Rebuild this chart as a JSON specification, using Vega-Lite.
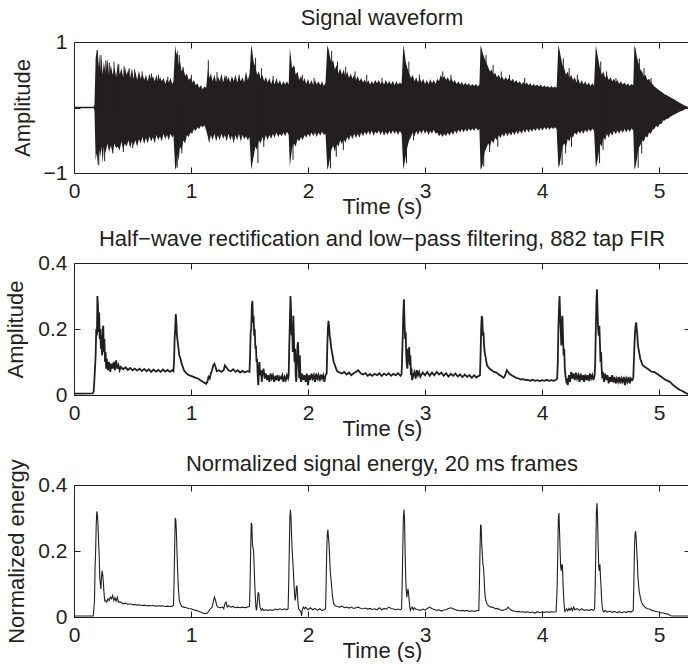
{
"$schema": "https://vega.github.io/schema/vega-lite/v6.json",
"padding": {"left": 4, "top": 6, "right": 0, "bottom": 0},
"bounds": "flush",
"spacing": 90,
"background": "white",
"config": {
 "font": "Liberation Sans",
 "view": {"stroke": "#231f20", "strokeWidth": 1},
 "axis": {"grid": false, "domain": false, "zindex": 1, "tickColor": "#231f20", "tickWidth": 1, "tickSize": 6, "labelFlush": false, "labelOverlap": false, "labelFontSize": 21, "labelColor": "#231f20", "titleFontSize": 22, "titleFontWeight": "normal", "titleColor": "#231f20", "labelFont": "Liberation Sans", "titleFont": "Liberation Sans"},
 "title": {"fontSize": 22, "fontWeight": "normal", "color": "#231f20", "font": "Liberation Sans", "offset": 1}
},
"datasets": {
"onsets": [{"t":0.18},{"t":0.86},{"t":1.515},{"t":1.845},{"t":2.165},{"t":2.815},{"t":3.475},{"t":4.14},{"t":4.46},{"t":4.79}],
"spikes": [
{"t":0.2,"a":0,"b":0.88},{"t":0.23,"a":0,"b":0.8},{"t":0.272,"a":0,"b":0.72},{"t":0.302,"a":0,"b":0.68},{"t":0.342,"a":0,"b":0.7},{"t":0.383,"a":0,"b":0.66},{"t":0.428,"a":0,"b":0.63},{"t":0.472,"a":0,"b":0.6},{"t":0.518,"a":0,"b":0.58},{"t":0.583,"a":0,"b":0.55},{"t":0.662,"a":0,"b":0.52},{"t":0.722,"a":0,"b":0.5},{"t":0.802,"a":0,"b":0.47},{"t":0.9,"a":0,"b":0.8},{"t":0.932,"a":0,"b":0.62},{"t":1.003,"a":0,"b":0.5},{"t":1.148,"a":0,"b":0.72},{"t":1.222,"a":0,"b":0.54},{"t":1.302,"a":0,"b":0.48},{"t":1.412,"a":0,"b":0.5},{"t":1.552,"a":0,"b":0.76},{"t":1.602,"a":0,"b":0.6},{"t":1.702,"a":0,"b":0.48},{"t":1.882,"a":0,"b":0.62},{"t":1.952,"a":0,"b":0.5},{"t":2.052,"a":0,"b":0.45},{"t":2.202,"a":0,"b":0.86},{"t":2.252,"a":0,"b":0.7},{"t":2.322,"a":0,"b":0.62},{"t":2.402,"a":0,"b":0.55},{"t":2.502,"a":0,"b":0.5},{"t":2.632,"a":0,"b":0.45},{"t":2.862,"a":0,"b":0.7},{"t":2.952,"a":0,"b":0.5},{"t":3.152,"a":0,"b":0.55},{"t":3.222,"a":0,"b":0.5},{"t":3.522,"a":0,"b":0.8},{"t":3.582,"a":0,"b":0.65},{"t":3.652,"a":0,"b":0.55},{"t":3.722,"a":0,"b":0.5},{"t":3.852,"a":0,"b":0.45},{"t":4.182,"a":0,"b":0.75},{"t":4.232,"a":0,"b":0.6},{"t":4.302,"a":0,"b":0.5},{"t":4.502,"a":0,"b":0.7},{"t":4.552,"a":0,"b":0.55},{"t":4.632,"a":0,"b":0.45},{"t":4.832,"a":0,"b":0.75},{"t":4.872,"a":0,"b":0.6},{"t":4.932,"a":0,"b":0.45},
{"t":0.212,"a":0,"b":-0.88},{"t":0.262,"a":0,"b":-0.82},{"t":0.332,"a":0,"b":-0.7},{"t":0.422,"a":0,"b":-0.68},{"t":0.502,"a":0,"b":-0.62},{"t":0.882,"a":0,"b":-0.92},{"t":0.922,"a":0,"b":-0.7},{"t":1.572,"a":0,"b":-0.85},{"t":1.622,"a":0,"b":-0.6},{"t":1.872,"a":0,"b":-0.8},{"t":2.192,"a":0,"b":-0.93},{"t":2.242,"a":0,"b":-0.75},{"t":2.302,"a":0,"b":-0.65},{"t":2.842,"a":0,"b":-0.85},{"t":2.902,"a":0,"b":-0.5},{"t":3.502,"a":0,"b":-0.9},{"t":3.552,"a":0,"b":-0.68},{"t":3.622,"a":0,"b":-0.6},{"t":4.172,"a":0,"b":-0.88},{"t":4.202,"a":0,"b":-0.7},{"t":4.252,"a":0,"b":-0.6},{"t":4.492,"a":0,"b":-0.85},{"t":4.522,"a":0,"b":-0.65},{"t":4.822,"a":0,"b":-0.92},{"t":4.852,"a":0,"b":-0.7}
],
"env": [
{"t":0,"hi":0.01,"lo":-0.01},{"t":0.17,"hi":0.01,"lo":-0.01},{"t":0.175,"hi":0.05,"lo":-0.05},{"t":0.185,"hi":0.75,"lo":-0.8},{"t":0.195,"hi":0.88,"lo":-0.7},{"t":0.205,"hi":0.6,"lo":-0.9},{"t":0.215,"hi":0.82,"lo":-0.65},{"t":0.225,"hi":0.55,"lo":-0.75},{"t":0.235,"hi":0.78,"lo":-0.6},{"t":0.245,"hi":0.5,"lo":-0.85},{"t":0.255,"hi":0.7,"lo":-0.6},{"t":0.27,"hi":0.52,"lo":-0.7},{"t":0.285,"hi":0.75,"lo":-0.55},{"t":0.3,"hi":0.48,"lo":-0.68},{"t":0.315,"hi":0.65,"lo":-0.58},{"t":0.33,"hi":0.5,"lo":-0.7},{"t":0.345,"hi":0.62,"lo":-0.55},{"t":0.36,"hi":0.47,"lo":-0.62},{"t":0.375,"hi":0.68,"lo":-0.6},{"t":0.39,"hi":0.5,"lo":-0.66},{"t":0.405,"hi":0.6,"lo":-0.52},{"t":0.42,"hi":0.46,"lo":-0.64},{"t":0.435,"hi":0.62,"lo":-0.55},{"t":0.45,"hi":0.5,"lo":-0.6},{"t":0.465,"hi":0.58,"lo":-0.5},{"t":0.48,"hi":0.45,"lo":-0.62},{"t":0.495,"hi":0.6,"lo":-0.52},{"t":0.51,"hi":0.44,"lo":-0.58},{"t":0.525,"hi":0.55,"lo":-0.5},{"t":0.54,"hi":0.42,"lo":-0.6},{"t":0.555,"hi":0.56,"lo":-0.48},{"t":0.57,"hi":0.44,"lo":-0.55},{"t":0.585,"hi":0.52,"lo":-0.45},{"t":0.6,"hi":0.42,"lo":-0.56},{"t":0.615,"hi":0.5,"lo":-0.46},{"t":0.63,"hi":0.4,"lo":-0.55},{"t":0.645,"hi":0.52,"lo":-0.44},{"t":0.66,"hi":0.42,"lo":-0.52},{"t":0.675,"hi":0.48,"lo":-0.45},{"t":0.69,"hi":0.4,"lo":-0.55},{"t":0.705,"hi":0.5,"lo":-0.42},{"t":0.72,"hi":0.38,"lo":-0.5},{"t":0.735,"hi":0.47,"lo":-0.44},{"t":0.75,"hi":0.4,"lo":-0.52},{"t":0.765,"hi":0.45,"lo":-0.4},{"t":0.78,"hi":0.36,"lo":-0.48},{"t":0.795,"hi":0.44,"lo":-0.42},{"t":0.81,"hi":0.38,"lo":-0.5},{"t":0.825,"hi":0.45,"lo":-0.4},{"t":0.84,"hi":0.36,"lo":-0.46},{"t":0.85,"hi":0.4,"lo":-0.42},{"t":0.865,"hi":0.95,"lo":-0.95},{"t":0.875,"hi":0.8,"lo":-0.9},{"t":0.885,"hi":0.88,"lo":-0.7},{"t":0.895,"hi":0.65,"lo":-0.82},{"t":0.905,"hi":0.72,"lo":-0.6},{"t":0.92,"hi":0.55,"lo":-0.65},{"t":0.935,"hi":0.6,"lo":-0.5},{"t":0.95,"hi":0.48,"lo":-0.55},{"t":0.965,"hi":0.52,"lo":-0.42},{"t":0.98,"hi":0.42,"lo":-0.45},{"t":0.995,"hi":0.45,"lo":-0.38},{"t":1.01,"hi":0.38,"lo":-0.4},{"t":1.025,"hi":0.42,"lo":-0.33},{"t":1.04,"hi":0.34,"lo":-0.36},{"t":1.055,"hi":0.37,"lo":-0.3},{"t":1.07,"hi":0.3,"lo":-0.33},{"t":1.085,"hi":0.34,"lo":-0.28},{"t":1.1,"hi":0.28,"lo":-0.3},{"t":1.115,"hi":0.32,"lo":-0.27},{"t":1.13,"hi":0.3,"lo":-0.35},{"t":1.145,"hi":0.6,"lo":-0.45},{"t":1.155,"hi":0.45,"lo":-0.55},{"t":1.17,"hi":0.52,"lo":-0.42},{"t":1.185,"hi":0.4,"lo":-0.5},{"t":1.2,"hi":0.5,"lo":-0.4},{"t":1.215,"hi":0.38,"lo":-0.52},{"t":1.23,"hi":0.48,"lo":-0.42},{"t":1.245,"hi":0.4,"lo":-0.5},{"t":1.26,"hi":0.52,"lo":-0.4},{"t":1.275,"hi":0.38,"lo":-0.48},{"t":1.29,"hi":0.5,"lo":-0.42},{"t":1.305,"hi":0.4,"lo":-0.52},{"t":1.32,"hi":0.47,"lo":-0.4},{"t":1.335,"hi":0.38,"lo":-0.5},{"t":1.35,"hi":0.48,"lo":-0.43},{"t":1.365,"hi":0.4,"lo":-0.55},{"t":1.38,"hi":0.5,"lo":-0.42},{"t":1.395,"hi":0.38,"lo":-0.5},{"t":1.41,"hi":0.48,"lo":-0.4},{"t":1.425,"hi":0.4,"lo":-0.52},{"t":1.44,"hi":0.46,"lo":-0.42},{"t":1.455,"hi":0.38,"lo":-0.48},{"t":1.47,"hi":0.55,"lo":-0.44},{"t":1.485,"hi":0.42,"lo":-0.5},{"t":1.5,"hi":0.5,"lo":-0.45},{"t":1.515,"hi":0.95,"lo":-0.95},{"t":1.525,"hi":0.85,"lo":-0.85},{"t":1.535,"hi":0.7,"lo":-0.75},{"t":1.55,"hi":0.62,"lo":-0.6},{"t":1.565,"hi":0.5,"lo":-0.65},{"t":1.58,"hi":0.55,"lo":-0.5},{"t":1.595,"hi":0.44,"lo":-0.55},{"t":1.61,"hi":0.5,"lo":-0.45},{"t":1.625,"hi":0.4,"lo":-0.52},{"t":1.64,"hi":0.47,"lo":-0.42},{"t":1.655,"hi":0.38,"lo":-0.5},{"t":1.67,"hi":0.45,"lo":-0.42},{"t":1.685,"hi":0.36,"lo":-0.48},{"t":1.7,"hi":0.44,"lo":-0.4},{"t":1.715,"hi":0.35,"lo":-0.46},{"t":1.73,"hi":0.45,"lo":-0.38},{"t":1.745,"hi":0.36,"lo":-0.45},{"t":1.76,"hi":0.42,"lo":-0.4},{"t":1.775,"hi":0.34,"lo":-0.44},{"t":1.79,"hi":0.4,"lo":-0.38},{"t":1.805,"hi":0.35,"lo":-0.44},{"t":1.82,"hi":0.4,"lo":-0.37},{"t":1.835,"hi":0.35,"lo":-0.42},{"t":1.845,"hi":0.9,"lo":-0.9},{"t":1.855,"hi":0.75,"lo":-0.75},{"t":1.865,"hi":0.6,"lo":-0.62},{"t":1.88,"hi":0.65,"lo":-0.55},{"t":1.895,"hi":0.5,"lo":-0.6},{"t":1.91,"hi":0.55,"lo":-0.48},{"t":1.925,"hi":0.42,"lo":-0.52},{"t":1.94,"hi":0.48,"lo":-0.45},{"t":1.955,"hi":0.38,"lo":-0.5},{"t":1.97,"hi":0.45,"lo":-0.42},{"t":1.985,"hi":0.36,"lo":-0.46},{"t":2.0,"hi":0.44,"lo":-0.4},{"t":2.015,"hi":0.35,"lo":-0.45},{"t":2.03,"hi":0.42,"lo":-0.38},{"t":2.045,"hi":0.34,"lo":-0.44},{"t":2.06,"hi":0.42,"lo":-0.38},{"t":2.075,"hi":0.35,"lo":-0.45},{"t":2.09,"hi":0.4,"lo":-0.38},{"t":2.105,"hi":0.34,"lo":-0.43},{"t":2.12,"hi":0.4,"lo":-0.37},{"t":2.135,"hi":0.33,"lo":-0.42},{"t":2.15,"hi":0.38,"lo":-0.4},{"t":2.165,"hi":0.95,"lo":-0.95},{"t":2.175,"hi":0.9,"lo":-0.9},{"t":2.185,"hi":0.8,"lo":-0.8},{"t":2.2,"hi":0.68,"lo":-0.65},{"t":2.215,"hi":0.72,"lo":-0.58},{"t":2.23,"hi":0.58,"lo":-0.68},{"t":2.245,"hi":0.65,"lo":-0.55},{"t":2.26,"hi":0.52,"lo":-0.6},{"t":2.275,"hi":0.6,"lo":-0.5},{"t":2.29,"hi":0.5,"lo":-0.56},{"t":2.305,"hi":0.58,"lo":-0.48},{"t":2.32,"hi":0.47,"lo":-0.54},{"t":2.335,"hi":0.55,"lo":-0.45},{"t":2.35,"hi":0.45,"lo":-0.5},{"t":2.365,"hi":0.52,"lo":-0.42},{"t":2.38,"hi":0.44,"lo":-0.48},{"t":2.395,"hi":0.5,"lo":-0.4},{"t":2.41,"hi":0.42,"lo":-0.47},{"t":2.425,"hi":0.48,"lo":-0.4},{"t":2.44,"hi":0.4,"lo":-0.46},{"t":2.455,"hi":0.45,"lo":-0.38},{"t":2.47,"hi":0.38,"lo":-0.44},{"t":2.485,"hi":0.43,"lo":-0.37},{"t":2.5,"hi":0.36,"lo":-0.42},{"t":2.515,"hi":0.42,"lo":-0.36},{"t":2.53,"hi":0.35,"lo":-0.42},{"t":2.545,"hi":0.4,"lo":-0.35},{"t":2.56,"hi":0.36,"lo":-0.43},{"t":2.575,"hi":0.42,"lo":-0.37},{"t":2.59,"hi":0.37,"lo":-0.4},{"t":2.605,"hi":0.42,"lo":-0.35},{"t":2.62,"hi":0.36,"lo":-0.42},{"t":2.635,"hi":0.4,"lo":-0.36},{"t":2.65,"hi":0.35,"lo":-0.43},{"t":2.665,"hi":0.42,"lo":-0.37},{"t":2.68,"hi":0.36,"lo":-0.42},{"t":2.695,"hi":0.4,"lo":-0.36},{"t":2.71,"hi":0.35,"lo":-0.41},{"t":2.725,"hi":0.41,"lo":-0.35},{"t":2.74,"hi":0.34,"lo":-0.4},{"t":2.755,"hi":0.4,"lo":-0.36},{"t":2.77,"hi":0.35,"lo":-0.42},{"t":2.785,"hi":0.38,"lo":-0.36},{"t":2.8,"hi":0.36,"lo":-0.4},{"t":2.815,"hi":0.95,"lo":-0.95},{"t":2.825,"hi":0.85,"lo":-0.85},{"t":2.835,"hi":0.7,"lo":-0.75},{"t":2.85,"hi":0.6,"lo":-0.6},{"t":2.865,"hi":0.52,"lo":-0.5},{"t":2.88,"hi":0.45,"lo":-0.45},{"t":2.895,"hi":0.5,"lo":-0.38},{"t":2.91,"hi":0.4,"lo":-0.44},{"t":2.925,"hi":0.46,"lo":-0.36},{"t":2.94,"hi":0.38,"lo":-0.42},{"t":2.955,"hi":0.45,"lo":-0.35},{"t":2.97,"hi":0.38,"lo":-0.4},{"t":2.985,"hi":0.44,"lo":-0.34},{"t":3.0,"hi":0.36,"lo":-0.4},{"t":3.015,"hi":0.42,"lo":-0.35},{"t":3.03,"hi":0.36,"lo":-0.42},{"t":3.045,"hi":0.43,"lo":-0.36},{"t":3.06,"hi":0.37,"lo":-0.4},{"t":3.075,"hi":0.42,"lo":-0.34},{"t":3.09,"hi":0.36,"lo":-0.4},{"t":3.105,"hi":0.44,"lo":-0.38},{"t":3.12,"hi":0.4,"lo":-0.44},{"t":3.135,"hi":0.5,"lo":-0.4},{"t":3.15,"hi":0.44,"lo":-0.45},{"t":3.165,"hi":0.48,"lo":-0.4},{"t":3.18,"hi":0.42,"lo":-0.44},{"t":3.195,"hi":0.46,"lo":-0.38},{"t":3.21,"hi":0.4,"lo":-0.43},{"t":3.225,"hi":0.45,"lo":-0.37},{"t":3.24,"hi":0.38,"lo":-0.42},{"t":3.255,"hi":0.42,"lo":-0.35},{"t":3.27,"hi":0.36,"lo":-0.4},{"t":3.285,"hi":0.4,"lo":-0.34},{"t":3.3,"hi":0.35,"lo":-0.38},{"t":3.315,"hi":0.39,"lo":-0.33},{"t":3.33,"hi":0.34,"lo":-0.38},{"t":3.345,"hi":0.38,"lo":-0.33},{"t":3.36,"hi":0.34,"lo":-0.37},{"t":3.375,"hi":0.37,"lo":-0.32},{"t":3.39,"hi":0.33,"lo":-0.36},{"t":3.405,"hi":0.36,"lo":-0.32},{"t":3.42,"hi":0.33,"lo":-0.36},{"t":3.435,"hi":0.36,"lo":-0.31},{"t":3.45,"hi":0.32,"lo":-0.35},{"t":3.465,"hi":0.35,"lo":-0.33},{"t":3.475,"hi":0.95,"lo":-0.95},{"t":3.485,"hi":0.9,"lo":-0.92},{"t":3.495,"hi":0.82,"lo":-0.85},{"t":3.51,"hi":0.75,"lo":-0.68},{"t":3.525,"hi":0.68,"lo":-0.62},{"t":3.54,"hi":0.62,"lo":-0.55},{"t":3.555,"hi":0.55,"lo":-0.6},{"t":3.57,"hi":0.58,"lo":-0.5},{"t":3.585,"hi":0.5,"lo":-0.55},{"t":3.6,"hi":0.53,"lo":-0.46},{"t":3.615,"hi":0.46,"lo":-0.5},{"t":3.63,"hi":0.5,"lo":-0.42},{"t":3.645,"hi":0.44,"lo":-0.47},{"t":3.66,"hi":0.47,"lo":-0.4},{"t":3.675,"hi":0.42,"lo":-0.45},{"t":3.69,"hi":0.46,"lo":-0.38},{"t":3.705,"hi":0.42,"lo":-0.44},{"t":3.72,"hi":0.46,"lo":-0.38},{"t":3.735,"hi":0.4,"lo":-0.43},{"t":3.75,"hi":0.44,"lo":-0.37},{"t":3.765,"hi":0.38,"lo":-0.42},{"t":3.78,"hi":0.42,"lo":-0.36},{"t":3.795,"hi":0.37,"lo":-0.41},{"t":3.81,"hi":0.4,"lo":-0.35},{"t":3.825,"hi":0.35,"lo":-0.4},{"t":3.84,"hi":0.39,"lo":-0.34},{"t":3.855,"hi":0.35,"lo":-0.39},{"t":3.87,"hi":0.38,"lo":-0.33},{"t":3.885,"hi":0.34,"lo":-0.38},{"t":3.9,"hi":0.37,"lo":-0.33},{"t":3.915,"hi":0.33,"lo":-0.37},{"t":3.93,"hi":0.36,"lo":-0.32},{"t":3.945,"hi":0.33,"lo":-0.36},{"t":3.96,"hi":0.35,"lo":-0.31},{"t":3.975,"hi":0.32,"lo":-0.36},{"t":3.99,"hi":0.35,"lo":-0.31},{"t":4.005,"hi":0.31,"lo":-0.35},{"t":4.02,"hi":0.34,"lo":-0.3},{"t":4.035,"hi":0.31,"lo":-0.34},{"t":4.05,"hi":0.33,"lo":-0.3},{"t":4.065,"hi":0.3,"lo":-0.34},{"t":4.08,"hi":0.33,"lo":-0.3},{"t":4.095,"hi":0.3,"lo":-0.33},{"t":4.11,"hi":0.32,"lo":-0.3},{"t":4.125,"hi":0.3,"lo":-0.33},{"t":4.14,"hi":0.95,"lo":-0.92},{"t":4.15,"hi":0.88,"lo":-0.88},{"t":4.16,"hi":0.78,"lo":-0.78},{"t":4.175,"hi":0.65,"lo":-0.6},{"t":4.19,"hi":0.6,"lo":-0.55},{"t":4.205,"hi":0.5,"lo":-0.6},{"t":4.22,"hi":0.55,"lo":-0.48},{"t":4.235,"hi":0.45,"lo":-0.52},{"t":4.25,"hi":0.5,"lo":-0.42},{"t":4.265,"hi":0.42,"lo":-0.46},{"t":4.28,"hi":0.46,"lo":-0.38},{"t":4.295,"hi":0.38,"lo":-0.42},{"t":4.31,"hi":0.44,"lo":-0.36},{"t":4.325,"hi":0.36,"lo":-0.4},{"t":4.34,"hi":0.42,"lo":-0.35},{"t":4.355,"hi":0.35,"lo":-0.4},{"t":4.37,"hi":0.4,"lo":-0.34},{"t":4.385,"hi":0.34,"lo":-0.38},{"t":4.4,"hi":0.38,"lo":-0.33},{"t":4.415,"hi":0.33,"lo":-0.37},{"t":4.43,"hi":0.37,"lo":-0.32},{"t":4.445,"hi":0.33,"lo":-0.36},{"t":4.46,"hi":0.95,"lo":-0.92},{"t":4.47,"hi":0.85,"lo":-0.85},{"t":4.48,"hi":0.75,"lo":-0.75},{"t":4.495,"hi":0.6,"lo":-0.55},{"t":4.51,"hi":0.5,"lo":-0.6},{"t":4.525,"hi":0.55,"lo":-0.45},{"t":4.54,"hi":0.45,"lo":-0.5},{"t":4.555,"hi":0.5,"lo":-0.4},{"t":4.57,"hi":0.42,"lo":-0.46},{"t":4.585,"hi":0.46,"lo":-0.38},{"t":4.6,"hi":0.4,"lo":-0.43},{"t":4.615,"hi":0.44,"lo":-0.36},{"t":4.63,"hi":0.38,"lo":-0.41},{"t":4.645,"hi":0.42,"lo":-0.35},{"t":4.66,"hi":0.36,"lo":-0.4},{"t":4.675,"hi":0.4,"lo":-0.34},{"t":4.69,"hi":0.35,"lo":-0.39},{"t":4.705,"hi":0.38,"lo":-0.33},{"t":4.72,"hi":0.34,"lo":-0.38},{"t":4.735,"hi":0.37,"lo":-0.33},{"t":4.75,"hi":0.33,"lo":-0.37},{"t":4.765,"hi":0.36,"lo":-0.32},{"t":4.78,"hi":0.34,"lo":-0.35},{"t":4.79,"hi":0.95,"lo":-0.95},{"t":4.8,"hi":0.9,"lo":-0.9},{"t":4.81,"hi":0.78,"lo":-0.8},{"t":4.825,"hi":0.68,"lo":-0.62},{"t":4.84,"hi":0.58,"lo":-0.58},{"t":4.855,"hi":0.55,"lo":-0.5},{"t":4.87,"hi":0.48,"lo":-0.52},{"t":4.885,"hi":0.5,"lo":-0.44},{"t":4.9,"hi":0.42,"lo":-0.46},{"t":4.915,"hi":0.44,"lo":-0.38},{"t":4.93,"hi":0.38,"lo":-0.4},{"t":4.945,"hi":0.36,"lo":-0.34},{"t":4.96,"hi":0.32,"lo":-0.33},{"t":4.975,"hi":0.3,"lo":-0.28},{"t":4.99,"hi":0.28,"lo":-0.3},{"t":5.005,"hi":0.26,"lo":-0.25},{"t":5.02,"hi":0.24,"lo":-0.25},{"t":5.035,"hi":0.22,"lo":-0.2},{"t":5.05,"hi":0.2,"lo":-0.2},{"t":5.065,"hi":0.19,"lo":-0.17},{"t":5.08,"hi":0.17,"lo":-0.17},{"t":5.095,"hi":0.16,"lo":-0.14},{"t":5.11,"hi":0.14,"lo":-0.13},{"t":5.125,"hi":0.13,"lo":-0.11},{"t":5.14,"hi":0.11,"lo":-0.1},{"t":5.16,"hi":0.09,"lo":-0.08},{"t":5.18,"hi":0.07,"lo":-0.06},{"t":5.2,"hi":0.05,"lo":-0.05},{"t":5.22,"hi":0.03,"lo":-0.03},{"t":5.24,"hi":0.015,"lo":-0.015},{"t":5.26,"hi":0.005,"lo":-0.005}
],
"rect": [
{"t":0,"v":0.004},{"t":0.16,"v":0.005},{"t":0.168,"v":0.01},{"t":0.175,"v":0.05},{"t":0.185,"v":0.12},{"t":0.19,"v":0.2},{"t":0.196,"v":0.18},{"t":0.2,"v":0.3},{"t":0.205,"v":0.27},{"t":0.21,"v":0.19},{"t":0.215,"v":0.25},{"t":0.22,"v":0.17},{"t":0.225,"v":0.2},{"t":0.23,"v":0.14},{"t":0.235,"v":0.18},{"t":0.24,"v":0.12},{"t":0.245,"v":0.2},{"t":0.25,"v":0.21},{"t":0.255,"v":0.13},{"t":0.26,"v":0.17},{"t":0.265,"v":0.1},{"t":0.27,"v":0.13},{"t":0.275,"v":0.08},{"t":0.28,"v":0.11},{"t":0.29,"v":0.075},{"t":0.3,"v":0.1},{"t":0.31,"v":0.07},{"t":0.32,"v":0.095},{"t":0.33,"v":0.08},{"t":0.34,"v":0.1},{"t":0.35,"v":0.075},{"t":0.36,"v":0.105},{"t":0.37,"v":0.08},{"t":0.38,"v":0.09},{"t":0.39,"v":0.075},{"t":0.4,"v":0.085},{"t":0.42,"v":0.078},{"t":0.44,"v":0.084},{"t":0.46,"v":0.076},{"t":0.48,"v":0.082},{"t":0.5,"v":0.075},{"t":0.52,"v":0.08},{"t":0.54,"v":0.074},{"t":0.56,"v":0.08},{"t":0.58,"v":0.073},{"t":0.6,"v":0.079},{"t":0.62,"v":0.072},{"t":0.64,"v":0.078},{"t":0.66,"v":0.07},{"t":0.68,"v":0.077},{"t":0.7,"v":0.071},{"t":0.72,"v":0.076},{"t":0.74,"v":0.07},{"t":0.76,"v":0.077},{"t":0.78,"v":0.071},{"t":0.8,"v":0.076},{"t":0.82,"v":0.07},{"t":0.84,"v":0.075},{"t":0.85,"v":0.072},{"t":0.855,"v":0.1},{"t":0.86,"v":0.17},{"t":0.865,"v":0.2},{"t":0.87,"v":0.245},{"t":0.875,"v":0.22},{"t":0.88,"v":0.18},{"t":0.89,"v":0.15},{"t":0.9,"v":0.12},{"t":0.91,"v":0.11},{"t":0.92,"v":0.095},{"t":0.93,"v":0.085},{"t":0.94,"v":0.075},{"t":0.95,"v":0.07},{"t":0.96,"v":0.066},{"t":0.98,"v":0.06},{"t":1.0,"v":0.058},{"t":1.02,"v":0.055},{"t":1.04,"v":0.052},{"t":1.06,"v":0.05},{"t":1.08,"v":0.045},{"t":1.1,"v":0.04},{"t":1.12,"v":0.036},{"t":1.13,"v":0.034},{"t":1.14,"v":0.04},{"t":1.15,"v":0.055},{"t":1.16,"v":0.05},{"t":1.17,"v":0.065},{"t":1.18,"v":0.075},{"t":1.19,"v":0.09},{"t":1.2,"v":0.095},{"t":1.21,"v":0.085},{"t":1.22,"v":0.072},{"t":1.24,"v":0.075},{"t":1.26,"v":0.07},{"t":1.28,"v":0.076},{"t":1.29,"v":0.09},{"t":1.3,"v":0.085},{"t":1.32,"v":0.075},{"t":1.34,"v":0.072},{"t":1.36,"v":0.078},{"t":1.38,"v":0.07},{"t":1.4,"v":0.075},{"t":1.42,"v":0.068},{"t":1.44,"v":0.073},{"t":1.46,"v":0.068},{"t":1.48,"v":0.072},{"t":1.5,"v":0.07},{"t":1.505,"v":0.12},{"t":1.51,"v":0.19},{"t":1.515,"v":0.2},{"t":1.52,"v":0.27},{"t":1.525,"v":0.285},{"t":1.53,"v":0.22},{"t":1.535,"v":0.24},{"t":1.54,"v":0.18},{"t":1.545,"v":0.2},{"t":1.55,"v":0.14},{"t":1.555,"v":0.15},{"t":1.56,"v":0.1},{"t":1.565,"v":0.11},{"t":1.57,"v":0.06},{"t":1.575,"v":0.03},{"t":1.58,"v":0.07},{"t":1.585,"v":0.1},{"t":1.59,"v":0.06},{"t":1.6,"v":0.075},{"t":1.605,"v":0.04},{"t":1.61,"v":0.06},{"t":1.62,"v":0.08},{"t":1.63,"v":0.05},{"t":1.64,"v":0.065},{"t":1.65,"v":0.045},{"t":1.66,"v":0.06},{"t":1.67,"v":0.04},{"t":1.68,"v":0.065},{"t":1.69,"v":0.05},{"t":1.7,"v":0.06},{"t":1.71,"v":0.04},{"t":1.72,"v":0.058},{"t":1.73,"v":0.045},{"t":1.74,"v":0.06},{"t":1.75,"v":0.042},{"t":1.76,"v":0.055},{"t":1.77,"v":0.05},{"t":1.78,"v":0.06},{"t":1.79,"v":0.04},{"t":1.8,"v":0.055},{"t":1.81,"v":0.045},{"t":1.82,"v":0.06},{"t":1.83,"v":0.05},{"t":1.835,"v":0.06},{"t":1.84,"v":0.15},{"t":1.845,"v":0.22},{"t":1.85,"v":0.3},{"t":1.855,"v":0.26},{"t":1.86,"v":0.18},{"t":1.865,"v":0.21},{"t":1.87,"v":0.13},{"t":1.875,"v":0.24},{"t":1.88,"v":0.17},{"t":1.885,"v":0.1},{"t":1.89,"v":0.14},{"t":1.895,"v":0.06},{"t":1.9,"v":0.04},{"t":1.905,"v":0.1},{"t":1.91,"v":0.15},{"t":1.915,"v":0.16},{"t":1.92,"v":0.1},{"t":1.925,"v":0.05},{"t":1.93,"v":0.12},{"t":1.935,"v":0.06},{"t":1.94,"v":0.04},{"t":1.95,"v":0.065},{"t":1.96,"v":0.045},{"t":1.97,"v":0.06},{"t":1.98,"v":0.04},{"t":1.99,"v":0.065},{"t":2.0,"v":0.03},{"t":2.01,"v":0.06},{"t":2.02,"v":0.045},{"t":2.03,"v":0.065},{"t":2.04,"v":0.05},{"t":2.05,"v":0.06},{"t":2.06,"v":0.04},{"t":2.07,"v":0.065},{"t":2.08,"v":0.05},{"t":2.09,"v":0.06},{"t":2.1,"v":0.042},{"t":2.11,"v":0.062},{"t":2.12,"v":0.05},{"t":2.13,"v":0.06},{"t":2.14,"v":0.04},{"t":2.15,"v":0.06},{"t":2.16,"v":0.065},{"t":2.165,"v":0.15},{"t":2.17,"v":0.2},{"t":2.175,"v":0.225},{"t":2.18,"v":0.21},{"t":2.185,"v":0.18},{"t":2.19,"v":0.17},{"t":2.2,"v":0.14},{"t":2.21,"v":0.12},{"t":2.22,"v":0.1},{"t":2.23,"v":0.09},{"t":2.24,"v":0.08},{"t":2.25,"v":0.072},{"t":2.27,"v":0.068},{"t":2.29,"v":0.065},{"t":2.31,"v":0.07},{"t":2.33,"v":0.062},{"t":2.35,"v":0.068},{"t":2.37,"v":0.06},{"t":2.39,"v":0.066},{"t":2.41,"v":0.07},{"t":2.43,"v":0.075},{"t":2.45,"v":0.066},{"t":2.47,"v":0.062},{"t":2.49,"v":0.066},{"t":2.51,"v":0.058},{"t":2.53,"v":0.063},{"t":2.55,"v":0.058},{"t":2.57,"v":0.064},{"t":2.59,"v":0.06},{"t":2.61,"v":0.066},{"t":2.63,"v":0.058},{"t":2.65,"v":0.065},{"t":2.67,"v":0.06},{"t":2.69,"v":0.066},{"t":2.71,"v":0.058},{"t":2.73,"v":0.064},{"t":2.75,"v":0.06},{"t":2.77,"v":0.066},{"t":2.79,"v":0.058},{"t":2.8,"v":0.063},{"t":2.805,"v":0.12},{"t":2.81,"v":0.18},{"t":2.815,"v":0.25},{"t":2.82,"v":0.29},{"t":2.825,"v":0.22},{"t":2.83,"v":0.17},{"t":2.835,"v":0.19},{"t":2.84,"v":0.12},{"t":2.845,"v":0.09},{"t":2.85,"v":0.08},{"t":2.855,"v":0.14},{"t":2.86,"v":0.1},{"t":2.865,"v":0.145},{"t":2.87,"v":0.09},{"t":2.875,"v":0.12},{"t":2.88,"v":0.06},{"t":2.885,"v":0.08},{"t":2.89,"v":0.045},{"t":2.9,"v":0.06},{"t":2.91,"v":0.07},{"t":2.92,"v":0.05},{"t":2.93,"v":0.075},{"t":2.94,"v":0.06},{"t":2.95,"v":0.07},{"t":2.96,"v":0.055},{"t":2.98,"v":0.068},{"t":3.0,"v":0.06},{"t":3.02,"v":0.07},{"t":3.04,"v":0.058},{"t":3.06,"v":0.068},{"t":3.08,"v":0.06},{"t":3.1,"v":0.07},{"t":3.12,"v":0.062},{"t":3.14,"v":0.068},{"t":3.16,"v":0.058},{"t":3.18,"v":0.066},{"t":3.2,"v":0.056},{"t":3.22,"v":0.064},{"t":3.24,"v":0.058},{"t":3.26,"v":0.065},{"t":3.28,"v":0.056},{"t":3.3,"v":0.062},{"t":3.32,"v":0.054},{"t":3.34,"v":0.062},{"t":3.36,"v":0.055},{"t":3.38,"v":0.06},{"t":3.4,"v":0.052},{"t":3.42,"v":0.06},{"t":3.44,"v":0.053},{"t":3.46,"v":0.058},{"t":3.47,"v":0.06},{"t":3.475,"v":0.12},{"t":3.48,"v":0.2},{"t":3.485,"v":0.24},{"t":3.49,"v":0.23},{"t":3.495,"v":0.18},{"t":3.5,"v":0.19},{"t":3.505,"v":0.15},{"t":3.51,"v":0.13},{"t":3.52,"v":0.11},{"t":3.53,"v":0.09},{"t":3.54,"v":0.085},{"t":3.55,"v":0.08},{"t":3.57,"v":0.075},{"t":3.59,"v":0.07},{"t":3.61,"v":0.068},{"t":3.63,"v":0.062},{"t":3.65,"v":0.058},{"t":3.67,"v":0.052},{"t":3.68,"v":0.056},{"t":3.69,"v":0.065},{"t":3.7,"v":0.075},{"t":3.71,"v":0.07},{"t":3.72,"v":0.065},{"t":3.74,"v":0.06},{"t":3.76,"v":0.056},{"t":3.78,"v":0.052},{"t":3.8,"v":0.05},{"t":3.82,"v":0.047},{"t":3.84,"v":0.048},{"t":3.86,"v":0.045},{"t":3.88,"v":0.046},{"t":3.9,"v":0.043},{"t":3.92,"v":0.046},{"t":3.94,"v":0.043},{"t":3.96,"v":0.045},{"t":3.98,"v":0.042},{"t":4.0,"v":0.045},{"t":4.02,"v":0.043},{"t":4.04,"v":0.046},{"t":4.06,"v":0.043},{"t":4.08,"v":0.045},{"t":4.1,"v":0.043},{"t":4.12,"v":0.046},{"t":4.13,"v":0.05},{"t":4.135,"v":0.1},{"t":4.14,"v":0.2},{"t":4.145,"v":0.26},{"t":4.15,"v":0.3},{"t":4.155,"v":0.24},{"t":4.16,"v":0.2},{"t":4.165,"v":0.15},{"t":4.17,"v":0.22},{"t":4.175,"v":0.24},{"t":4.18,"v":0.17},{"t":4.185,"v":0.12},{"t":4.19,"v":0.14},{"t":4.195,"v":0.08},{"t":4.2,"v":0.06},{"t":4.21,"v":0.035},{"t":4.215,"v":0.05},{"t":4.22,"v":0.03},{"t":4.23,"v":0.06},{"t":4.24,"v":0.04},{"t":4.25,"v":0.07},{"t":4.26,"v":0.05},{"t":4.27,"v":0.065},{"t":4.28,"v":0.045},{"t":4.29,"v":0.068},{"t":4.3,"v":0.05},{"t":4.31,"v":0.06},{"t":4.32,"v":0.04},{"t":4.33,"v":0.065},{"t":4.34,"v":0.045},{"t":4.35,"v":0.06},{"t":4.36,"v":0.04},{"t":4.37,"v":0.062},{"t":4.38,"v":0.045},{"t":4.39,"v":0.06},{"t":4.4,"v":0.042},{"t":4.41,"v":0.065},{"t":4.42,"v":0.05},{"t":4.43,"v":0.06},{"t":4.44,"v":0.045},{"t":4.45,"v":0.06},{"t":4.455,"v":0.1},{"t":4.46,"v":0.2},{"t":4.465,"v":0.28},{"t":4.47,"v":0.32},{"t":4.475,"v":0.25},{"t":4.48,"v":0.2},{"t":4.485,"v":0.18},{"t":4.49,"v":0.21},{"t":4.495,"v":0.16},{"t":4.5,"v":0.1},{"t":4.505,"v":0.13},{"t":4.51,"v":0.08},{"t":4.515,"v":0.05},{"t":4.52,"v":0.07},{"t":4.53,"v":0.04},{"t":4.54,"v":0.065},{"t":4.55,"v":0.045},{"t":4.56,"v":0.06},{"t":4.57,"v":0.035},{"t":4.58,"v":0.055},{"t":4.59,"v":0.04},{"t":4.6,"v":0.06},{"t":4.61,"v":0.038},{"t":4.62,"v":0.055},{"t":4.63,"v":0.035},{"t":4.64,"v":0.05},{"t":4.65,"v":0.04},{"t":4.66,"v":0.055},{"t":4.67,"v":0.035},{"t":4.68,"v":0.05},{"t":4.69,"v":0.04},{"t":4.7,"v":0.055},{"t":4.71,"v":0.03},{"t":4.72,"v":0.05},{"t":4.73,"v":0.04},{"t":4.74,"v":0.055},{"t":4.75,"v":0.035},{"t":4.76,"v":0.05},{"t":4.77,"v":0.045},{"t":4.78,"v":0.05},{"t":4.785,"v":0.1},{"t":4.79,"v":0.15},{"t":4.795,"v":0.19},{"t":4.8,"v":0.21},{"t":4.805,"v":0.22},{"t":4.81,"v":0.2},{"t":4.815,"v":0.18},{"t":4.82,"v":0.15},{"t":4.83,"v":0.13},{"t":4.84,"v":0.11},{"t":4.85,"v":0.1},{"t":4.86,"v":0.09},{"t":4.88,"v":0.085},{"t":4.9,"v":0.08},{"t":4.92,"v":0.075},{"t":4.94,"v":0.07},{"t":4.96,"v":0.07},{"t":4.98,"v":0.065},{"t":5.0,"v":0.06},{"t":5.02,"v":0.055},{"t":5.04,"v":0.05},{"t":5.06,"v":0.045},{"t":5.08,"v":0.042},{"t":5.1,"v":0.038},{"t":5.12,"v":0.03},{"t":5.14,"v":0.025},{"t":5.16,"v":0.02},{"t":5.18,"v":0.015},{"t":5.2,"v":0.012},{"t":5.22,"v":0.008},{"t":5.24,"v":0.004},{"t":5.26,"v":0.001}
],
"energy": [
{"t":0,"v":0.003},{"t":0.165,"v":0.003},{"t":0.175,"v":0.05},{"t":0.18,"v":0.15},{"t":0.185,"v":0.2},{"t":0.19,"v":0.28},{"t":0.195,"v":0.32},{"t":0.2,"v":0.31},{"t":0.205,"v":0.28},{"t":0.21,"v":0.23},{"t":0.215,"v":0.19},{"t":0.22,"v":0.12},{"t":0.225,"v":0.1},{"t":0.23,"v":0.085},{"t":0.235,"v":0.12},{"t":0.24,"v":0.14},{"t":0.245,"v":0.13},{"t":0.25,"v":0.11},{"t":0.255,"v":0.08},{"t":0.26,"v":0.06},{"t":0.265,"v":0.048},{"t":0.27,"v":0.05},{"t":0.28,"v":0.045},{"t":0.29,"v":0.055},{"t":0.3,"v":0.05},{"t":0.31,"v":0.06},{"t":0.32,"v":0.055},{"t":0.33,"v":0.065},{"t":0.34,"v":0.05},{"t":0.35,"v":0.058},{"t":0.36,"v":0.048},{"t":0.37,"v":0.06},{"t":0.38,"v":0.045},{"t":0.4,"v":0.045},{"t":0.42,"v":0.04},{"t":0.44,"v":0.042},{"t":0.46,"v":0.038},{"t":0.48,"v":0.04},{"t":0.5,"v":0.037},{"t":0.52,"v":0.038},{"t":0.54,"v":0.036},{"t":0.56,"v":0.037},{"t":0.58,"v":0.035},{"t":0.6,"v":0.036},{"t":0.62,"v":0.034},{"t":0.64,"v":0.035},{"t":0.66,"v":0.034},{"t":0.68,"v":0.035},{"t":0.7,"v":0.033},{"t":0.72,"v":0.034},{"t":0.74,"v":0.033},{"t":0.76,"v":0.034},{"t":0.78,"v":0.032},{"t":0.8,"v":0.033},{"t":0.82,"v":0.032},{"t":0.84,"v":0.033},{"t":0.85,"v":0.035},{"t":0.855,"v":0.1},{"t":0.86,"v":0.2},{"t":0.865,"v":0.3},{"t":0.87,"v":0.295},{"t":0.875,"v":0.26},{"t":0.88,"v":0.2},{"t":0.885,"v":0.15},{"t":0.89,"v":0.1},{"t":0.895,"v":0.075},{"t":0.9,"v":0.05},{"t":0.91,"v":0.04},{"t":0.92,"v":0.032},{"t":0.94,"v":0.03},{"t":0.96,"v":0.028},{"t":0.98,"v":0.026},{"t":1.0,"v":0.025},{"t":1.02,"v":0.022},{"t":1.04,"v":0.02},{"t":1.06,"v":0.018},{"t":1.08,"v":0.015},{"t":1.1,"v":0.012},{"t":1.12,"v":0.01},{"t":1.14,"v":0.012},{"t":1.16,"v":0.022},{"t":1.18,"v":0.03},{"t":1.19,"v":0.045},{"t":1.2,"v":0.06},{"t":1.21,"v":0.05},{"t":1.22,"v":0.035},{"t":1.23,"v":0.03},{"t":1.25,"v":0.028},{"t":1.27,"v":0.03},{"t":1.28,"v":0.025},{"t":1.29,"v":0.04},{"t":1.3,"v":0.045},{"t":1.31,"v":0.03},{"t":1.32,"v":0.035},{"t":1.34,"v":0.03},{"t":1.36,"v":0.032},{"t":1.38,"v":0.028},{"t":1.4,"v":0.03},{"t":1.42,"v":0.028},{"t":1.44,"v":0.03},{"t":1.46,"v":0.028},{"t":1.48,"v":0.03},{"t":1.5,"v":0.032},{"t":1.505,"v":0.1},{"t":1.51,"v":0.2},{"t":1.515,"v":0.285},{"t":1.52,"v":0.28},{"t":1.525,"v":0.22},{"t":1.53,"v":0.21},{"t":1.535,"v":0.2},{"t":1.54,"v":0.15},{"t":1.545,"v":0.1},{"t":1.55,"v":0.06},{"t":1.555,"v":0.03},{"t":1.56,"v":0.02},{"t":1.565,"v":0.035},{"t":1.57,"v":0.06},{"t":1.575,"v":0.075},{"t":1.58,"v":0.07},{"t":1.585,"v":0.045},{"t":1.59,"v":0.03},{"t":1.6,"v":0.02},{"t":1.61,"v":0.025},{"t":1.62,"v":0.02},{"t":1.64,"v":0.022},{"t":1.66,"v":0.02},{"t":1.68,"v":0.022},{"t":1.7,"v":0.02},{"t":1.72,"v":0.024},{"t":1.74,"v":0.022},{"t":1.76,"v":0.025},{"t":1.78,"v":0.022},{"t":1.8,"v":0.025},{"t":1.82,"v":0.022},{"t":1.83,"v":0.025},{"t":1.835,"v":0.1},{"t":1.84,"v":0.2},{"t":1.845,"v":0.3},{"t":1.85,"v":0.325},{"t":1.855,"v":0.3},{"t":1.86,"v":0.24},{"t":1.865,"v":0.2},{"t":1.87,"v":0.17},{"t":1.875,"v":0.14},{"t":1.88,"v":0.1},{"t":1.885,"v":0.07},{"t":1.89,"v":0.05},{"t":1.895,"v":0.06},{"t":1.9,"v":0.09},{"t":1.905,"v":0.095},{"t":1.91,"v":0.07},{"t":1.915,"v":0.04},{"t":1.92,"v":0.025},{"t":1.93,"v":0.02},{"t":1.94,"v":0.015},{"t":1.945,"v":0.003},{"t":1.95,"v":0.02},{"t":1.96,"v":0.03},{"t":1.97,"v":0.025},{"t":1.98,"v":0.03},{"t":2.0,"v":0.022},{"t":2.02,"v":0.028},{"t":2.04,"v":0.022},{"t":2.06,"v":0.026},{"t":2.08,"v":0.02},{"t":2.1,"v":0.025},{"t":2.12,"v":0.02},{"t":2.14,"v":0.022},{"t":2.15,"v":0.025},{"t":2.155,"v":0.1},{"t":2.16,"v":0.2},{"t":2.165,"v":0.25},{"t":2.17,"v":0.265},{"t":2.175,"v":0.24},{"t":2.18,"v":0.22},{"t":2.185,"v":0.18},{"t":2.19,"v":0.14},{"t":2.2,"v":0.1},{"t":2.21,"v":0.06},{"t":2.22,"v":0.04},{"t":2.23,"v":0.035},{"t":2.25,"v":0.032},{"t":2.27,"v":0.03},{"t":2.29,"v":0.033},{"t":2.31,"v":0.028},{"t":2.33,"v":0.03},{"t":2.35,"v":0.027},{"t":2.37,"v":0.03},{"t":2.39,"v":0.026},{"t":2.41,"v":0.028},{"t":2.43,"v":0.03},{"t":2.45,"v":0.026},{"t":2.47,"v":0.025},{"t":2.49,"v":0.027},{"t":2.51,"v":0.024},{"t":2.53,"v":0.026},{"t":2.55,"v":0.023},{"t":2.57,"v":0.025},{"t":2.59,"v":0.022},{"t":2.61,"v":0.028},{"t":2.63,"v":0.022},{"t":2.65,"v":0.026},{"t":2.67,"v":0.024},{"t":2.69,"v":0.03},{"t":2.71,"v":0.026},{"t":2.73,"v":0.024},{"t":2.75,"v":0.022},{"t":2.77,"v":0.024},{"t":2.79,"v":0.022},{"t":2.8,"v":0.025},{"t":2.805,"v":0.1},{"t":2.81,"v":0.2},{"t":2.815,"v":0.3},{"t":2.82,"v":0.325},{"t":2.825,"v":0.3},{"t":2.83,"v":0.2},{"t":2.835,"v":0.12},{"t":2.84,"v":0.08},{"t":2.845,"v":0.06},{"t":2.85,"v":0.075},{"t":2.855,"v":0.085},{"t":2.86,"v":0.07},{"t":2.865,"v":0.05},{"t":2.87,"v":0.03},{"t":2.875,"v":0.02},{"t":2.88,"v":0.025},{"t":2.89,"v":0.03},{"t":2.9,"v":0.022},{"t":2.91,"v":0.028},{"t":2.92,"v":0.024},{"t":2.94,"v":0.022},{"t":2.96,"v":0.02},{"t":2.98,"v":0.024},{"t":3.0,"v":0.021},{"t":3.02,"v":0.026},{"t":3.04,"v":0.03},{"t":3.06,"v":0.025},{"t":3.08,"v":0.023},{"t":3.1,"v":0.02},{"t":3.12,"v":0.022},{"t":3.14,"v":0.018},{"t":3.16,"v":0.021},{"t":3.18,"v":0.022},{"t":3.2,"v":0.026},{"t":3.22,"v":0.028},{"t":3.24,"v":0.025},{"t":3.26,"v":0.022},{"t":3.28,"v":0.02},{"t":3.3,"v":0.019},{"t":3.32,"v":0.02},{"t":3.34,"v":0.018},{"t":3.36,"v":0.02},{"t":3.38,"v":0.017},{"t":3.4,"v":0.019},{"t":3.42,"v":0.017},{"t":3.44,"v":0.019},{"t":3.46,"v":0.02},{"t":3.465,"v":0.1},{"t":3.47,"v":0.2},{"t":3.475,"v":0.28},{"t":3.48,"v":0.275},{"t":3.485,"v":0.22},{"t":3.49,"v":0.19},{"t":3.495,"v":0.16},{"t":3.5,"v":0.15},{"t":3.505,"v":0.12},{"t":3.51,"v":0.08},{"t":3.515,"v":0.06},{"t":3.52,"v":0.05},{"t":3.53,"v":0.04},{"t":3.54,"v":0.035},{"t":3.56,"v":0.03},{"t":3.58,"v":0.03},{"t":3.6,"v":0.025},{"t":3.62,"v":0.026},{"t":3.64,"v":0.022},{"t":3.66,"v":0.02},{"t":3.68,"v":0.022},{"t":3.7,"v":0.025},{"t":3.71,"v":0.03},{"t":3.72,"v":0.026},{"t":3.74,"v":0.02},{"t":3.76,"v":0.018},{"t":3.78,"v":0.016},{"t":3.8,"v":0.017},{"t":3.82,"v":0.015},{"t":3.84,"v":0.016},{"t":3.86,"v":0.014},{"t":3.88,"v":0.016},{"t":3.9,"v":0.013},{"t":3.92,"v":0.015},{"t":3.94,"v":0.012},{"t":3.96,"v":0.016},{"t":3.98,"v":0.013},{"t":4.0,"v":0.015},{"t":4.02,"v":0.014},{"t":4.04,"v":0.016},{"t":4.06,"v":0.014},{"t":4.08,"v":0.016},{"t":4.1,"v":0.015},{"t":4.12,"v":0.016},{"t":4.125,"v":0.05},{"t":4.13,"v":0.1},{"t":4.135,"v":0.2},{"t":4.14,"v":0.3},{"t":4.145,"v":0.315},{"t":4.15,"v":0.26},{"t":4.155,"v":0.2},{"t":4.16,"v":0.15},{"t":4.165,"v":0.14},{"t":4.17,"v":0.16},{"t":4.175,"v":0.155},{"t":4.18,"v":0.1},{"t":4.185,"v":0.06},{"t":4.19,"v":0.035},{"t":4.195,"v":0.015},{"t":4.2,"v":0.02},{"t":4.21,"v":0.025},{"t":4.22,"v":0.018},{"t":4.23,"v":0.026},{"t":4.24,"v":0.02},{"t":4.25,"v":0.028},{"t":4.26,"v":0.02},{"t":4.27,"v":0.03},{"t":4.28,"v":0.022},{"t":4.3,"v":0.025},{"t":4.32,"v":0.02},{"t":4.34,"v":0.025},{"t":4.36,"v":0.02},{"t":4.38,"v":0.022},{"t":4.4,"v":0.02},{"t":4.42,"v":0.023},{"t":4.44,"v":0.02},{"t":4.45,"v":0.025},{"t":4.455,"v":0.1},{"t":4.46,"v":0.2},{"t":4.465,"v":0.32},{"t":4.47,"v":0.345},{"t":4.475,"v":0.3},{"t":4.48,"v":0.22},{"t":4.485,"v":0.15},{"t":4.49,"v":0.14},{"t":4.495,"v":0.16},{"t":4.5,"v":0.12},{"t":4.505,"v":0.09},{"t":4.51,"v":0.05},{"t":4.515,"v":0.03},{"t":4.52,"v":0.02},{"t":4.53,"v":0.015},{"t":4.54,"v":0.02},{"t":4.56,"v":0.015},{"t":4.58,"v":0.018},{"t":4.6,"v":0.014},{"t":4.62,"v":0.017},{"t":4.64,"v":0.013},{"t":4.66,"v":0.016},{"t":4.68,"v":0.013},{"t":4.7,"v":0.016},{"t":4.72,"v":0.014},{"t":4.74,"v":0.017},{"t":4.76,"v":0.015},{"t":4.78,"v":0.02},{"t":4.785,"v":0.1},{"t":4.79,"v":0.2},{"t":4.795,"v":0.25},{"t":4.8,"v":0.26},{"t":4.805,"v":0.24},{"t":4.81,"v":0.2},{"t":4.815,"v":0.17},{"t":4.82,"v":0.12},{"t":4.825,"v":0.1},{"t":4.83,"v":0.08},{"t":4.84,"v":0.06},{"t":4.85,"v":0.045},{"t":4.86,"v":0.038},{"t":4.88,"v":0.03},{"t":4.9,"v":0.025},{"t":4.92,"v":0.024},{"t":4.94,"v":0.02},{"t":4.96,"v":0.018},{"t":4.98,"v":0.016},{"t":5.0,"v":0.015},{"t":5.02,"v":0.012},{"t":5.04,"v":0.012},{"t":5.06,"v":0.01},{"t":5.08,"v":0.008},{"t":5.1,"v":0.004},{"t":5.12,"v":0.003},{"t":5.26,"v":0.003}
]
},
"vconcat": [
{
 "width": 616, "height": 131,
 "title": {"text": "Signal waveform"},
 "layer": [
  {"data": {"name": "env"}, "mark": {"type": "area", "color": "#231f20", "interpolate": "linear"},
   "encoding": {
    "x": {"field": "t", "type": "quantitative", "scale": {"domain": [0, 5.265], "nice": false, "zero": false}, "axis": {"orient": "bottom", "values": [0,1,2,3,4,5], "format": "d", "title": "Time (s)", "ticks": false, "labelPadding": 7, "titlePadding": -5}},
    "y": {"field": "hi", "type": "quantitative", "scale": {"domain": [-1, 1], "nice": false, "zero": false}, "axis": {"orient": "left", "values": [-1,0,1], "format": "d", "title": "Amplitude", "ticks": false, "labelPadding": 7, "titlePadding": 9}},
    "y2": {"field": "lo"}
   }},
  {"data": {"name": "spikes"}, "mark": {"type": "rule", "color": "#231f20", "strokeWidth": 1},
   "encoding": {
    "x": {"field": "t", "type": "quantitative", "axis": null},
    "y": {"field": "a", "type": "quantitative", "axis": null},
    "y2": {"field": "b"}
   }},
  {"data": {"name": "onsets"}, "mark": {"type": "rule", "color": "#231f20", "strokeWidth": 2, "y": 0, "y2": {"expr": "height"}},
   "encoding": {
    "x": {"field": "t", "type": "quantitative", "axis": null}
   }},
  {"data": {"name": "env"}, "mark": {"type": "line", "opacity": 0},
   "encoding": {
    "x": {"field": "t", "type": "quantitative", "axis": {"orient": "top", "values": [0,1,2,3,4,5], "labels": false, "title": null, "offset": -6, "ticks": true, "tickSize": 6, "tickWidth": 1, "tickOpacity": 1, "tickColor": "#231f20"}},
    "y": {"field": "hi", "type": "quantitative", "axis": {"orient": "right", "values": [-1,0,1], "labels": false, "title": null, "offset": -6, "ticks": true, "tickSize": 6, "tickWidth": 1, "tickOpacity": 1, "tickColor": "#231f20"}}
   }},
  {"data": {"name": "env"}, "mark": {"type": "line", "opacity": 0},
   "encoding": {
    "x": {"field": "t", "type": "quantitative", "axis": {"orient": "bottom", "values": [0,1,2,3,4,5], "labels": false, "title": null, "offset": -6, "ticks": true, "tickSize": 6, "tickWidth": 1, "tickOpacity": 1, "tickColor": "#231f20"}},
    "y": {"field": "hi", "type": "quantitative", "axis": {"orient": "left", "values": [-1,0,1], "labels": false, "title": null, "offset": -6, "ticks": true, "tickSize": 6, "tickWidth": 1, "tickOpacity": 1, "tickColor": "#231f20"}}
   }}
 ],
 "resolve": {"axis": {"x": "independent", "y": "independent"}}
},
{
 "width": 616, "height": 132,
 "title": {"text": "Half−wave rectification and low−pass filtering, 882 tap FIR"},
 "layer": [
  {"data": {"name": "rect"}, "mark": {"type": "line", "color": "#231f20", "strokeWidth": 1.8},
   "encoding": {
    "x": {"field": "t", "type": "quantitative", "scale": {"domain": [0, 5.265], "nice": false, "zero": false}, "axis": {"orient": "bottom", "values": [0,1,2,3,4,5], "format": "d", "title": "Time (s)", "ticks": false, "labelPadding": 7, "titlePadding": -5}},
    "y": {"field": "v", "type": "quantitative", "scale": {"domain": [0, 0.4], "nice": false, "zero": false}, "axis": {"orient": "left", "values": [0,0.2,0.4], "format": "~g", "title": "Amplitude", "ticks": false, "labelPadding": 7, "titlePadding": 10}}
   }},
  {"data": {"name": "rect"}, "mark": {"type": "line", "opacity": 0},
   "encoding": {
    "x": {"field": "t", "type": "quantitative", "axis": {"orient": "top", "values": [0,1,2,3,4,5], "labels": false, "title": null, "offset": -6, "ticks": true, "tickSize": 6, "tickWidth": 1, "tickOpacity": 1, "tickColor": "#231f20"}},
    "y": {"field": "v", "type": "quantitative", "axis": {"orient": "right", "values": [0,0.2,0.4], "labels": false, "title": null, "offset": -6, "ticks": true, "tickSize": 6, "tickWidth": 1, "tickOpacity": 1, "tickColor": "#231f20"}}
   }},
  {"data": {"name": "rect"}, "mark": {"type": "line", "opacity": 0},
   "encoding": {
    "x": {"field": "t", "type": "quantitative", "axis": {"orient": "bottom", "values": [0,1,2,3,4,5], "labels": false, "title": null, "offset": -6, "ticks": true, "tickSize": 6, "tickWidth": 1, "tickOpacity": 1, "tickColor": "#231f20"}},
    "y": {"field": "v", "type": "quantitative", "axis": {"orient": "left", "values": [0,0.2,0.4], "labels": false, "title": null, "offset": -6, "ticks": true, "tickSize": 6, "tickWidth": 1, "tickOpacity": 1, "tickColor": "#231f20"}}
   }}
 ],
 "resolve": {"axis": {"x": "independent", "y": "independent"}}
},
{
 "width": 616, "height": 132,
 "title": {"text": "Normalized signal energy, 20 ms frames", "dy": 18},
 "layer": [
  {"data": {"name": "energy"}, "mark": {"type": "line", "color": "#231f20", "strokeWidth": 1.1},
   "encoding": {
    "x": {"field": "t", "type": "quantitative", "scale": {"domain": [0, 5.265], "nice": false, "zero": false}, "axis": {"orient": "bottom", "values": [0,1,2,3,4,5], "format": "d", "title": "Time (s)", "ticks": false, "labelPadding": 7, "titlePadding": -5}},
    "y": {"field": "v", "type": "quantitative", "scale": {"domain": [0, 0.4], "nice": false, "zero": false}, "axis": {"orient": "left", "values": [0,0.2,0.4], "format": "~g", "title": "Normalized energy", "ticks": false, "labelPadding": 7, "titlePadding": 9}}
   }},
  {"data": {"name": "energy"}, "mark": {"type": "line", "opacity": 0},
   "encoding": {
    "x": {"field": "t", "type": "quantitative", "axis": {"orient": "top", "values": [0,1,2,3,4,5], "labels": false, "title": null, "offset": -6, "ticks": true, "tickSize": 6, "tickWidth": 1, "tickOpacity": 1, "tickColor": "#231f20"}},
    "y": {"field": "v", "type": "quantitative", "axis": {"orient": "right", "values": [0,0.2,0.4], "labels": false, "title": null, "offset": -6, "ticks": true, "tickSize": 6, "tickWidth": 1, "tickOpacity": 1, "tickColor": "#231f20"}}
   }},
  {"data": {"name": "energy"}, "mark": {"type": "line", "opacity": 0},
   "encoding": {
    "x": {"field": "t", "type": "quantitative", "axis": {"orient": "bottom", "values": [0,1,2,3,4,5], "labels": false, "title": null, "offset": -6, "ticks": true, "tickSize": 6, "tickWidth": 1, "tickOpacity": 1, "tickColor": "#231f20"}},
    "y": {"field": "v", "type": "quantitative", "axis": {"orient": "left", "values": [0,0.2,0.4], "labels": false, "title": null, "offset": -6, "ticks": true, "tickSize": 6, "tickWidth": 1, "tickOpacity": 1, "tickColor": "#231f20"}}
   }}
 ],
 "resolve": {"axis": {"x": "independent", "y": "independent"}}
}
]
}
